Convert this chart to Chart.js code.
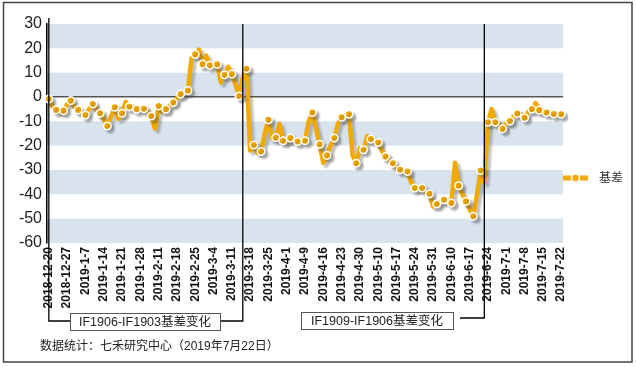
<!DOCTYPE html>
<html>
<head>
<meta charset="utf-8">
<script src="https://cdn.jsdelivr.net/npm/chart.js@4/dist/chart.umd.min.js"></script>
<style>
html, body { margin: 0; padding: 0; background: #fff; }
</style>
</head>
<body>
<canvas id="basisChart" width="636" height="367"></canvas>
<script>
// ===== DATA =====
// tick labels, one every 5 trading days
const tickDates = [
    '2018-12-20', '2018-12-27', '2019-1-7', '2019-1-14', '2019-1-21', '2019-1-28',
    '2019-2-11', '2019-2-18', '2019-2-25', '2019-3-4', '2019-3-11', '2019-3-18',
    '2019-3-25', '2019-4-1', '2019-4-9', '2019-4-16', '2019-4-23', '2019-4-30',
    '2019-5-10', '2019-5-17', '2019-5-24', '2019-5-31', '2019-6-10', '2019-6-17',
    '2019-6-24', '2019-7-1', '2019-7-8', '2019-7-15', '2019-7-22'
];
const daysPerTick = 5;

// 基差, one value per trading day
const basisValues = [
    -0.8, -4, -5.3, -6, -5.6, -3, -1.5, -4, -5.3, -6.5,
    -7.4, -5, -2.9, -5, -6.7, -9, -11.9, -8, -4.2, -9,
    -6.7, -2, -4, -4, -5, -4.5, -4.8, -6, -7.8, -13,
    -3.7, -6, -5, -3.5, -2.3, -0.5, 1.2, 1.5, 2.6, 16,
    17.5, 19.5, 13.5, 17, 13, 13, 13.4, 6, 9.1, 12.4,
    9.4, 5, 0.4, 8, 11.6, -22, -19.7, -23, -22.4, -15,
    -9.4, -17, -16.7, -11, -18, -18.5, -16.9, -18, -18.3, -17.5,
    -18, -10, -6.4, -13, -19.4, -27, -24, -20, -16.9, -11,
    -8.3, -7.5, -7.1, -24, -27.2, -21, -21.7, -16, -17.3, -18,
    -18.7, -22, -24.5, -26, -27.2, -29, -29.9, -30.5, -30.6, -35,
    -37.4, -37.5, -37.4, -39, -39.8, -45, -44, -43, -42.2, -43,
    -43.6, -27, -36.5, -40, -42.9, -46, -49, -40, -30.2, -35,
    -10.4, -5, -10.4, -11, -13.1, -11, -9.9, -8, -6.8, -7,
    -8.5, -6, -5, -2.5, -5.4, -6, -6.4, -6.5, -7, -7,
    -7.1
];

// contract roll notes: text, and the trading-day index where the period ends
const rollNotes = ['IF1906-IF1903基差变化', 'IF1909-IF1906基差变化'];
const rollEnds = [53, 119];

const sourceNote = '数据统计：七禾研究中心（2019年7月22日）';

// category list: date on every 5th day, blank otherwise
const categories = basisValues.map((v, i) =>
    i % daysPerTick === 0 ? tickDates[i / daysPerTick] : '');

const ORANGE = '#f2a900';
const FONT = '"Liberation Sans", Arial, "Noto Sans CJK SC", sans-serif';
Chart.defaults.font.family = FONT;

// ===== PLUGINS =====
const bandsPlugin = {
    id: 'bands',
    beforeDraw(chart) {
        const { ctx, chartArea: a, scales: { y } } = chart;
        ctx.save();
        ctx.fillStyle = '#fff';
        ctx.fillRect(0, 0, chart.width, chart.height);
        ctx.fillStyle = '#d9e3ee';
        for (let v = 30; v > -60; v -= 20) {
            const top = y.getPixelForValue(v);
            const bot = y.getPixelForValue(v - 10);
            ctx.fillRect(a.left, top, a.right - a.left, bot - top);
        }
        ctx.restore();
    }
};

const shadowPlugin = {
    id: 'lineShadow',
    beforeDatasetDraw(chart) {
        const ctx = chart.ctx;
        ctx.save();
        ctx.shadowColor = 'rgba(80, 80, 80, 0.35)';
        ctx.shadowOffsetX = 3;
        ctx.shadowOffsetY = 3;
        ctx.shadowBlur = 2;
    },
    afterDatasetDraw(chart) {
        chart.ctx.restore();
    }
};

const notesPlugin = {
    id: 'notes',
    afterDraw(chart) {
        const { ctx, chartArea: a, scales: { x } } = chart;
        ctx.save();

        // outer frame
        ctx.strokeStyle = '#444';
        ctx.lineWidth = 1.5;
        ctx.strokeRect(3.5, 2.5, 628.5, 359.5);

        // roll brackets
        const x0 = x.getPixelForValue(0);
        const x1 = x.getPixelForValue(rollEnds[0]);
        const x2 = x.getPixelForValue(rollEnds[1]);
        ctx.strokeStyle = '#000';
        ctx.lineWidth = 1.3;

        ctx.beginPath();
        ctx.moveTo(x0, 18);
        ctx.lineTo(x0, 321);
        ctx.lineTo(70, 321);
        ctx.moveTo(220, 321);
        ctx.lineTo(x1, 321);
        ctx.lineTo(x1, a.top);
        ctx.moveTo(460, 318);
        ctx.lineTo(x2, 318);
        ctx.lineTo(x2, a.top);
        ctx.stroke();

        const boxes = [[70, 313, 150, 17], [301, 312, 152, 17]];
        ctx.font = '12.5px ' + FONT;
        ctx.textAlign = 'center';
        ctx.textBaseline = 'middle';
        boxes.forEach((b, i) => {
            ctx.fillStyle = '#fff';
            ctx.fillRect(b[0], b[1], b[2], b[3]);
            ctx.strokeStyle = '#555';
            ctx.lineWidth = 1;
            ctx.strokeRect(b[0] + 0.5, b[1] + 0.5, b[2], b[3]);
            ctx.fillStyle = '#222';
            ctx.fillText(rollNotes[i], b[0] + b[2] / 2, b[1] + b[3] / 2 + 1);
        });

        // legend
        const ly = 178;
        ctx.strokeStyle = ORANGE;
        ctx.lineWidth = 5;
        ctx.beginPath();
        ctx.moveTo(563, ly);
        ctx.lineTo(588, ly);
        ctx.stroke();
        ctx.beginPath();
        ctx.arc(575.5, ly, 4, 0, Math.PI * 2);
        ctx.fillStyle = ORANGE;
        ctx.fill();
        ctx.strokeStyle = '#fff';
        ctx.lineWidth = 1.5;
        ctx.stroke();
        ctx.fillStyle = '#333';
        ctx.font = '12px ' + FONT;
        ctx.textAlign = 'left';
        ctx.fillText(chart.data.datasets[0].label, 599, ly + 1);

        // source note
        ctx.fillStyle = '#222';
        ctx.fillText(sourceNote, 40, 347);

        ctx.restore();
    }
};

// ===== CHART =====
new Chart(document.getElementById('basisChart'), {
    type: 'line',
    data: {
        labels: categories,
        datasets: [{
            label: '基差',
            data: basisValues,
            borderColor: ORANGE,
            borderWidth: 4.5,
            borderJoinStyle: 'round',
            borderCapStyle: 'round',
            tension: 0,
            pointRadius: ctx => ctx.dataIndex % 2 === 0 ? 3.8 : 0,
            pointBackgroundColor: ORANGE,
            pointBorderColor: '#fff',
            pointBorderWidth: 1.5
        }]
    },
    options: {
        responsive: false,
        animation: false,
        layout: { padding: { top: 24, left: 0, right: 73, bottom: 0 } },
        plugins: {
            legend: { display: false },
            tooltip: { enabled: false }
        },
        scales: {
            x: {
                offset: true,
                afterFit: s => { s.height = 124; },
                grid: { display: false, drawTicks: false },
                border: { display: false },
                ticks: {
                    autoSkip: false,
                    maxRotation: 90,
                    minRotation: 90,
                    padding: 4,
                    color: '#111',
                    font: { size: 12, weight: 'bold' }
                }
            },
            y: {
                min: -60,
                max: 30,
                afterFit: s => { s.width = 47; },
                grid: {
                    drawTicks: false,
                    color: c => c.tick.value === 0 ? '#555' : 'rgba(0,0,0,0)',
                    lineWidth: 1.6
                },
                border: { display: true, color: '#000', width: 1.5 },
                ticks: {
                    stepSize: 10,
                    padding: 5,
                    color: '#222',
                    font: { size: 16 }
                }
            }
        }
    },
    plugins: [bandsPlugin, shadowPlugin, notesPlugin]
});
</script>
</body>
</html>
